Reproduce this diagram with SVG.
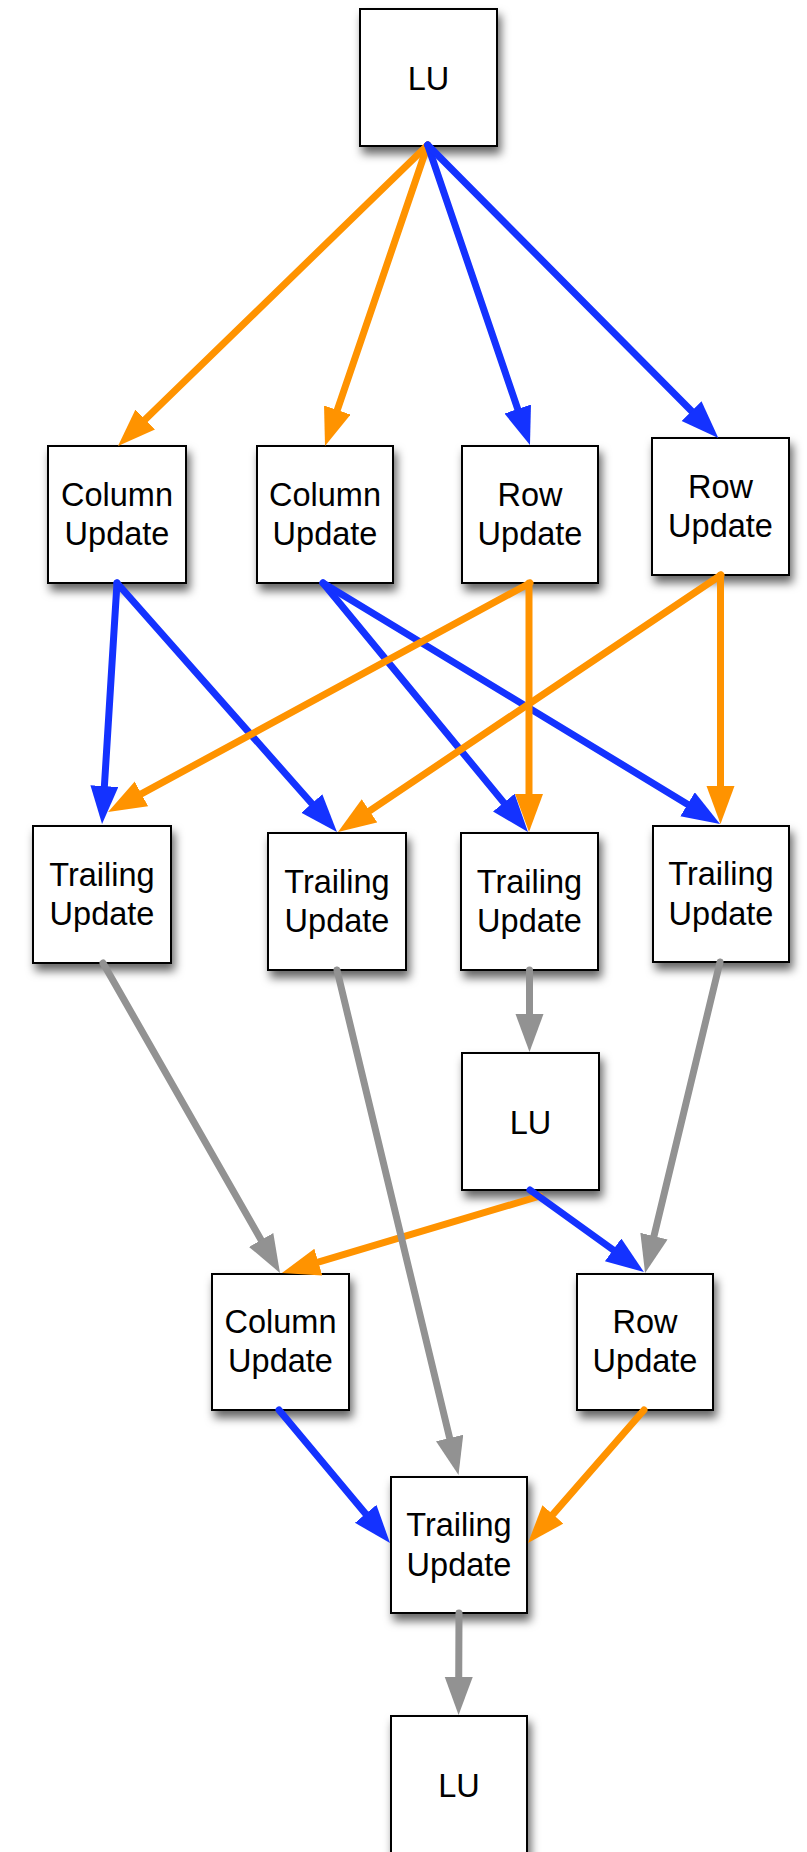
<svg xmlns="http://www.w3.org/2000/svg" width="807" height="1852" viewBox="0 0 807 1852">
  <style>
    .box { fill: #ffffff; stroke: #000000; stroke-width: 2; filter: url(#shadow); }
    .lbl { font-family: "Liberation Sans", Arial, Helvetica, sans-serif; font-size: 32.5px; fill: #000000; text-anchor: middle; }
    .edge { fill: none; stroke-width: 7; stroke-linecap: round; }
    .orange { stroke: #FF9300; marker-end: url(#headOrange); }
    .blue { stroke: #1432FF; marker-end: url(#headBlue); }
    .gray { stroke: #929292; marker-end: url(#headGray); }
  </style>
  <defs>
    <filter id="shadow" x="-20%" y="-20%" width="150%" height="150%">
      <feDropShadow dx="3" dy="7" stdDeviation="5" flood-color="#000000" flood-opacity="0.6"/>
    </filter>
    <marker id="headOrange" markerUnits="userSpaceOnUse" markerWidth="40" markerHeight="30" refX="8" refY="14" orient="auto">
      <path d="M0,0 L38,14 L0,28 Z" fill="#FF9300"/>
    </marker>
    <marker id="headBlue" markerUnits="userSpaceOnUse" markerWidth="40" markerHeight="30" refX="8" refY="14" orient="auto">
      <path d="M0,0 L38,14 L0,28 Z" fill="#1432FF"/>
    </marker>
    <marker id="headGray" markerUnits="userSpaceOnUse" markerWidth="40" markerHeight="30" refX="8" refY="14" orient="auto">
      <path d="M0,0 L38,14 L0,28 Z" fill="#929292"/>
    </marker>
  </defs>

  <rect width="807" height="1852" fill="#ffffff"/>

  <!-- nodes -->
  <g id="lu1"><rect class="box" x="360" y="9" width="137" height="137"/><text class="lbl" x="428.5" y="90">LU</text></g>
  <g id="col1"><rect class="box" x="48" y="446" width="138" height="137"/><text class="lbl" x="117" y="505.5">Column</text><text class="lbl" x="117" y="544.5">Update</text></g>
  <g id="col2"><rect class="box" x="257" y="446" width="136" height="137"/><text class="lbl" x="325" y="505.5">Column</text><text class="lbl" x="325" y="544.5">Update</text></g>
  <g id="row1"><rect class="box" x="462" y="446" width="136" height="137"/><text class="lbl" x="530" y="505.5">Row</text><text class="lbl" x="530" y="544.5">Update</text></g>
  <g id="row2"><rect class="box" x="652" y="438" width="137" height="137"/><text class="lbl" x="720.5" y="497.5">Row</text><text class="lbl" x="720.5" y="536.5">Update</text></g>
  <g id="tr1"><rect class="box" x="33" y="826" width="138" height="137"/><text class="lbl" x="102" y="885.5">Trailing</text><text class="lbl" x="102" y="925">Update</text></g>
  <g id="tr2"><rect class="box" x="268" y="833" width="138" height="137"/><text class="lbl" x="337" y="892.5">Trailing</text><text class="lbl" x="337" y="932">Update</text></g>
  <g id="tr3"><rect class="box" x="461" y="833" width="137" height="137"/><text class="lbl" x="529.5" y="892.5">Trailing</text><text class="lbl" x="529.5" y="932">Update</text></g>
  <g id="tr4"><rect class="box" x="653" y="826" width="136" height="136"/><text class="lbl" x="721" y="885">Trailing</text><text class="lbl" x="721" y="924.5">Update</text></g>
  <g id="lu2"><rect class="box" x="462" y="1053" width="137" height="137"/><text class="lbl" x="530.5" y="1134">LU</text></g>
  <g id="col3"><rect class="box" x="212" y="1274" width="137" height="136"/><text class="lbl" x="280.5" y="1333">Column</text><text class="lbl" x="280.5" y="1372">Update</text></g>
  <g id="row3"><rect class="box" x="577" y="1274" width="136" height="136"/><text class="lbl" x="645" y="1333">Row</text><text class="lbl" x="645" y="1372">Update</text></g>
  <g id="tr5"><rect class="box" x="391" y="1477" width="136" height="136"/><text class="lbl" x="459" y="1536">Trailing</text><text class="lbl" x="459" y="1575.5">Update</text></g>
  <g id="lu3"><rect class="box" x="391" y="1716" width="136" height="150"/><text class="lbl" x="459" y="1797">LU</text></g>

  <!-- connectors -->
  <g id="connectors">
    <line class="edge orange" x1="427.7" y1="145" x2="139.5" y2="425.1"/>
    <line class="edge orange" x1="427.7" y1="145" x2="334.7" y2="417.6"/>
    <line class="edge blue" x1="427.7" y1="145" x2="520.3" y2="416.6"/>
    <line class="edge blue" x1="427.7" y1="145" x2="697.2" y2="416.7"/>

    <line class="edge blue" x1="117" y1="583" x2="103.9" y2="794.1"/>
    <line class="edge blue" x1="117" y1="583" x2="317.1" y2="809.5"/>
    <line class="edge blue" x1="323" y1="583" x2="508.9" y2="808.8"/>
    <line class="edge blue" x1="323" y1="583" x2="694.4" y2="808.4"/>
    <line class="edge orange" x1="530" y1="583" x2="134.4" y2="797.7"/>
    <line class="edge orange" x1="529" y1="583" x2="529" y2="802"/>
    <line class="edge orange" x1="721" y1="575" x2="362.9" y2="815.3"/>
    <line class="edge orange" x1="720.5" y1="575" x2="720.5" y2="794"/>

    <line class="edge gray" x1="103" y1="963" x2="265.1" y2="1246.9"/>
    <line class="edge orange" x1="540" y1="1196" x2="310.7" y2="1264.4"/>
    <line class="edge blue" x1="530" y1="1190" x2="619.6" y2="1254.5"/>
    <line class="edge gray" x1="337" y1="970" x2="451.5" y2="1445.8"/>
    <line class="edge gray" x1="529.5" y1="970" x2="529.5" y2="1022"/>
    <line class="edge gray" x1="720" y1="962" x2="652.1" y2="1243.9"/>

    <line class="edge blue" x1="279" y1="1410" x2="370.8" y2="1520"/>
    <line class="edge orange" x1="644" y1="1410" x2="547.7" y2="1520.4"/>
    <line class="edge gray" x1="459" y1="1613" x2="458.7" y2="1685"/>
  </g>
</svg>
